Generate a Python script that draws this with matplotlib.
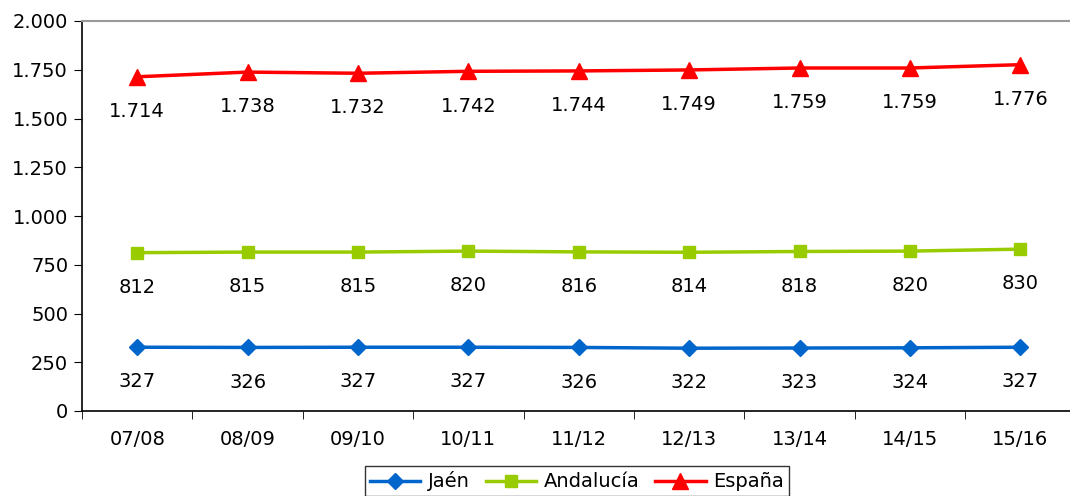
import matplotlib
matplotlib.use('Agg')
from matplotlib.pyplot import figure
from matplotlib.ticker import FuncFormatter, FixedLocator

seasons = ['07/08', '08/09', '09/10', '10/11', '11/12', '12/13', '13/14', '14/15', '15/16']
jaen = [327, 326, 327, 327, 326, 322, 323, 324, 327]
andalucia = [812, 815, 815, 820, 816, 814, 818, 820, 830]
espana = [1714, 1738, 1732, 1742, 1744, 1749, 1759, 1759, 1776]


def thousands(v, pos=None):
  return f'{int(v):,}'.replace(',', '.')


def main(path='out.png'):
  fig = figure(figsize=(10.7, 4.96), dpi=100)
  ax = fig.add_axes([82 / 1070, 1 - 411 / 496, 993.5 / 1070, 390 / 496])

  x = list(range(len(seasons)))
  series = [
    ('Jaén', jaen, '#0066CC', 'D', 8),
    ('Andalucía', andalucia, '#99CC00', 's', 9),
    ('España', espana, '#FF0000', '^', 11),
  ]
  for name, vals, color, marker, ms in series:
    ax.plot(x, vals, color=color, marker=marker, markersize=ms, linewidth=2.5, label=name, clip_on=False)
    for xi, v in zip(x, vals):
      ax.annotate(thousands(v), (xi, v), xytext=(0, -25), textcoords='offset points',
                  ha='center', va='center', fontsize=14, color='black')

  ax.set_xlim(-0.5, len(seasons) - 0.5)
  ax.set_ylim(0, 2000)
  ax.set_yticks(range(0, 2001, 250))
  ax.yaxis.set_major_formatter(FuncFormatter(thousands))
  ax.set_xticks(x)
  ax.set_xticklabels(seasons)
  ax.xaxis.set_minor_locator(FixedLocator([i - 0.5 for i in range(len(seasons) + 1)]))
  ax.tick_params(axis='x', which='major', length=0, pad=14, labelsize=14)
  ax.tick_params(axis='x', which='minor', length=6, direction='out')
  ax.tick_params(axis='y', length=6, direction='out', labelsize=14, pad=4)

  ax.spines['right'].set_visible(False)
  ax.spines['top'].set_color('#999999')
  ax.spines['top'].set_linewidth(1.5)
  ax.spines['left'].set_linewidth(1.2)
  ax.spines['bottom'].set_linewidth(1.2)

  leg = fig.legend(loc='lower center', bbox_to_anchor=(577 / 1070, -0.02), ncol=3, fontsize=14,
                   frameon=True, fancybox=False, edgecolor='black', handlelength=2.6,
                   handletextpad=0.4, columnspacing=0.8, borderpad=0.25)
  leg.get_frame().set_linewidth(1)

  fig.savefig(path, dpi=100)


if __name__ == '__main__':
  main()
